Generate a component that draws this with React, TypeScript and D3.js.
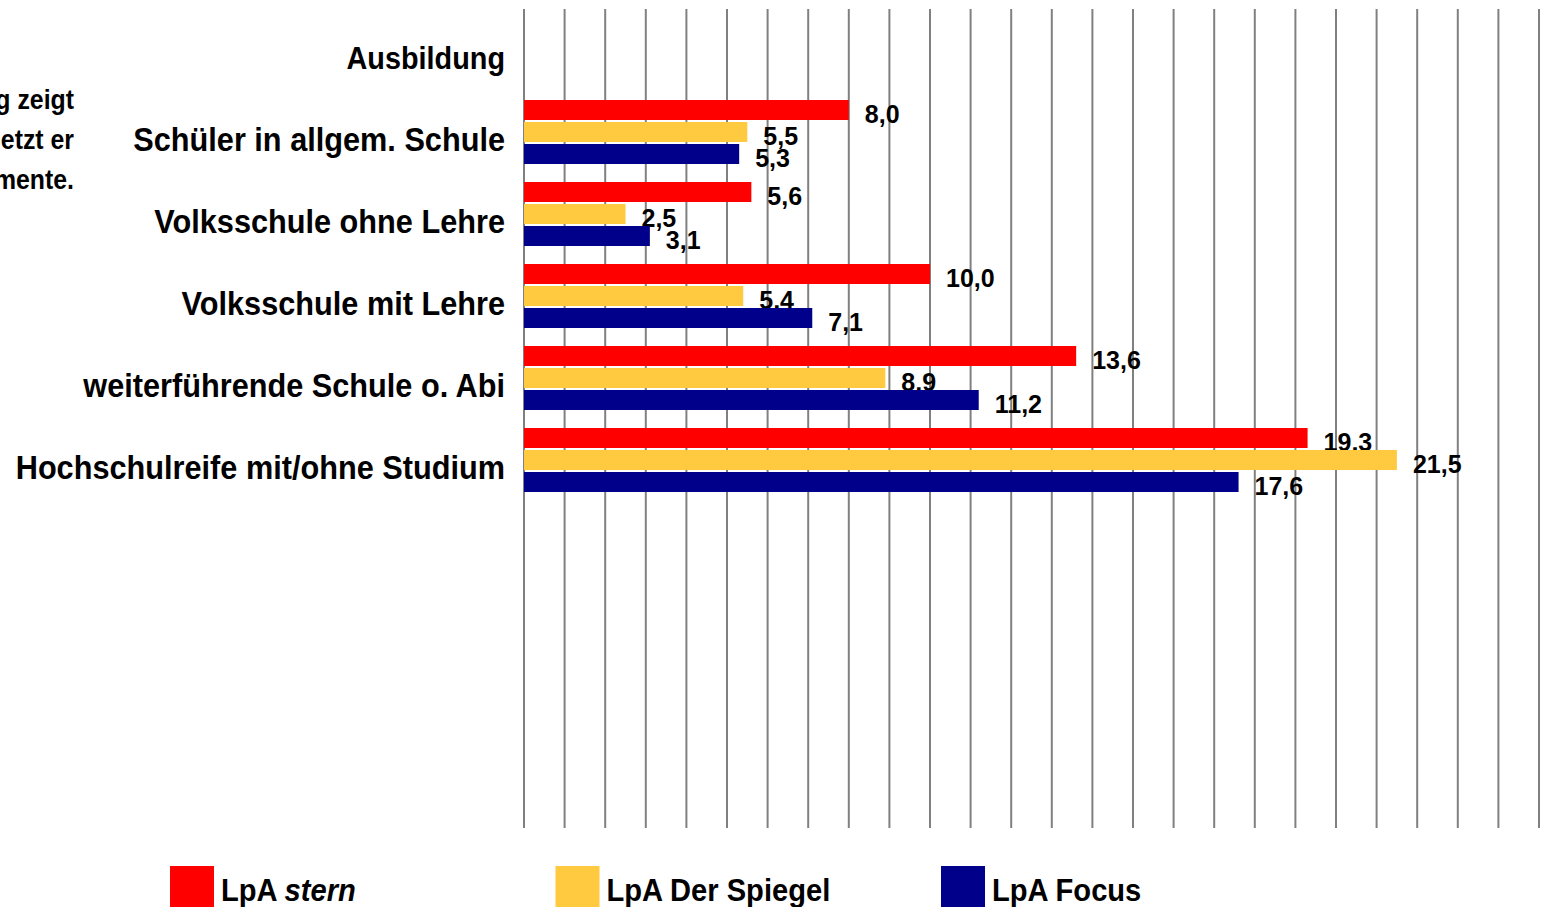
import React from "react";
import * as d3 from "d3";

const categories = [
  "Ausbildung",
  "Schüler in allgem. Schule",
  "Volksschule ohne Lehre",
  "Volksschule mit Lehre",
  "weiterführende Schule o. Abi",
  "Hochschulreife mit/ohne Studium",
];
const stern = [null, 8.0, 5.6, 10.0, 13.6, 19.3];
const spiegel = [null, 5.5, 2.5, 5.4, 8.9, 21.5];
const focus = [null, 5.3, 3.1, 7.1, 11.2, 17.6];
const seriesNames = ["stern", "Der Spiegel", "Focus"];
const seriesColors = ["#ff0000", "#ffc940", "#00008b"];
const sideText = ["g zeigt", "etzt er", "mente."];
const gridTicks = d3.range(0, 26);

const W = 1544;
const H = 907;
const FONT = "'Liberation Sans', Arial, sans-serif";

export default function App() {
  const x = d3.scaleLinear().domain([0, 25]).range([524, 1539]);
  const y = d3.scaleBand().domain(categories).range([18, 510]).paddingInner(0).paddingOuter(0);
  const series = [stern, spiegel, focus];
  const barH = 20;
  const barGap = 2;
  const fmt = (v: number) => v.toFixed(1).replace(".", ",");

  return (
    <svg width={W} height={H} style={{ position: "absolute", left: 0, top: 0, background: "#fff" }}>
      {gridTicks.map((t) => (
        <line key={t} x1={x(t)} x2={x(t)} y1={9} y2={828} stroke="#808080" strokeWidth={2} />
      ))}
      {categories.map((c, i) => (
        <g key={c}>
          <g transform={`translate(505, ${(y(c) as number) + y.bandwidth() / 2 - 1}) scale(0.93, 1)`}>
            <text
              x={0}
              y={0}
              textAnchor="end"
              dominantBaseline="central"
              fontFamily={FONT}
              fontWeight="bold"
              fontSize={i === 0 ? 31 : 33}
              fill="#000"
            >
              {c}
            </text>
          </g>
          {series.map((s, k) => {
            const v = s[i];
            if (v == null) return null;
            const by = (y(c) as number) + k * (barH + barGap);
            return (
              <g key={k}>
                <rect x={x(0)} y={by} width={x(v) - x(0)} height={barH} fill={seriesColors[k]} />
                <text
                  x={x(v) + 16}
                  y={by + barH / 2 + 4}
                  dominantBaseline="central"
                  fontFamily={FONT}
                  fontWeight="bold"
                  fontSize={25}
                  fill="#000"
                >
                  {fmt(v)}
                </text>
              </g>
            );
          })}
        </g>
      ))}
      {sideText.map((t, i) => (
        <g key={t} transform={`translate(74, ${100 + i * 40}) scale(0.92, 1)`}>
          <text
            x={0}
            y={0}
            textAnchor="end"
            dominantBaseline="central"
            fontFamily={FONT}
            fontWeight="bold"
            fontSize={27}
            fill="#000"
          >
            {t}
          </text>
        </g>
      ))}
      {seriesNames.map((n, k) => {
        const lx = 170 + k * 385.5;
        return (
          <g key={n}>
            <rect x={lx} y={866} width={44} height={41} fill={seriesColors[k]} />
            <g transform={`translate(${lx + 51}, 889) scale(0.91, 1)`}>
              <text
                x={0}
                y={0}
                dominantBaseline="central"
                fontFamily={FONT}
                fontWeight="bold"
                fontSize={32}
                fill="#000"
              >
                LpA{" "}
                {k === 0 ? <tspan fontStyle="italic">{n}</tspan> : n}
              </text>
            </g>
          </g>
        );
      })}
    </svg>
  );
}
